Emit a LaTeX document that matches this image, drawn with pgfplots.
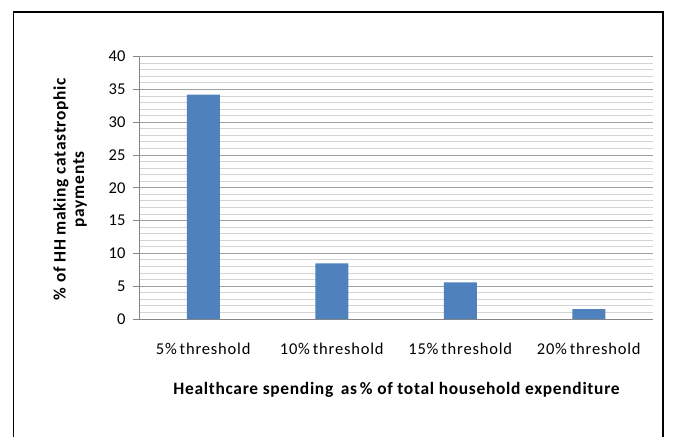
\documentclass[border=0pt]{standalone}
\usepackage{fontspec}
\setmainfont{Carlito}
\usepackage{pgfplots}
\pgfplotsset{compat=1.18}
\definecolor{barblue}{HTML}{4F81BD}
\definecolor{majgrid}{HTML}{A0A0A0}
\definecolor{mingrid}{HTML}{D4D4D4}
\definecolor{axisgray}{HTML}{868686}
\newcommand{\labelfont}{\fontsize{17.4}{18.5}\selectfont\addfontfeature{LetterSpace=4}\bfseries}
\begin{document}
\begin{tikzpicture}[x=1pt,y=1pt]
\useasboundingbox (0,0) rectangle (675,437);
% chart frame
\draw[line width=1.3pt] (13.5,0) -- (13.5,425) -- (663,425) -- (663,0);
\begin{axis}[
  at={(139pt,118pt)}, anchor=south west,
  scale only axis, width=514pt, height=262.3pt,
  xmin=-0.5, xmax=3.5, ymin=0, ymax=40,
  xtick={0,1,2,3},
  xticklabels={5\%\,threshold,10\%\,threshold,15\%\,threshold,20\%\,threshold},
  ytick={0,5,...,40},
  minor y tick num=4,
  ymajorgrids, yminorgrids,
  major grid style={majgrid, line width=1pt},
  minor grid style={mingrid, line width=1pt},
  axis line style={axisgray, line width=1pt},
  axis x line*=bottom, axis y line*=left,
  x axis line style={-},
  y axis line style={-},
  major x tick style={draw=none},
  minor tick length=0pt,
  major tick length=6pt,
  ytick style={axisgray, line width=1pt},
  tick align=outside,
  /pgf/number format/assume math mode=true,
  tick label style={font=\fontsize{16.5}{18}\selectfont},
  yticklabel style={xshift=-4pt},
  xticklabel style={yshift=-15pt, font=\fontsize{16.5}{18}\selectfont\addfontfeature{LetterSpace=5}},
  xlabel={Healthcare spending\, as\,\% of total household expenditure},
  xlabel style={font=\labelfont, at={(axis description cs:0.501,-0.27)}, anchor=center},
  ylabel={\% of HH making catastrophic\\payments},
  ylabel style={font=\labelfont, align=center, at={(axis description cs:-0.134,0.495)}, anchor=center, rotate=0},
]
\addplot[ybar, bar width=33pt, fill=barblue, draw=none] coordinates {
  (0,34.2) (1,8.5) (2,5.6) (3,1.5)
};
\end{axis}
\end{tikzpicture}
\end{document}
